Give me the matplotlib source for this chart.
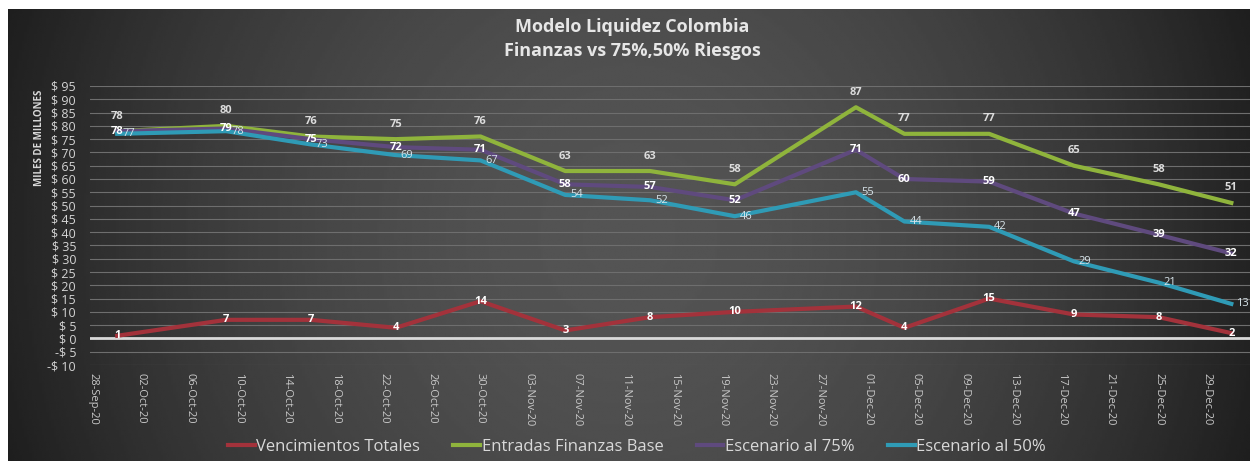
import matplotlib.pyplot as plt
import matplotlib.dates as mdates
import numpy as np
import datetime as dt

plt.rcParams['font.family'] = ['Open Sans', 'DejaVu Sans']

# datos
fechas = ["2020-09-30", "2020-10-09", "2020-10-16", "2020-10-23", "2020-10-30",
          "2020-11-06", "2020-11-13", "2020-11-20", "2020-11-30", "2020-12-04",
          "2020-12-11", "2020-12-18", "2020-12-25", "2020-12-31"]
vencimientos = [1, 7, 7, 4, 14, 3, 8, 10, 12, 4, 15, 9, 8, 2]
entradas_base = [78, 80, 76, 75, 76, 63, 63, 58, 87, 77, 77, 65, 58, 51]
escenario_75 = [78, 79, 75, 72, 71, 58, 57, 52, 71, 60, 59, 47, 39, 32]
escenario_50 = [77, 78, 73, 69, 67, 54, 52, 46, 55, 44, 42, 29, 21, 13]

series = ["Vencimientos Totales", "Entradas Finanzas Base", "Escenario al 75%", "Escenario al 50%"]
colores = ["#a3323b", "#8fb43c", "#5f4a7e", "#2f9bb6"]

x = [dt.datetime.strptime(f, "%Y-%m-%d") for f in fechas]

W, H = 1250, 461
fig = plt.figure(figsize=(W / 100, H / 100), dpi=100)
fig.patch.set_facecolor("white")

# fondo degradado oscuro
bg = fig.add_axes([8 / W, 0, 1 - 8 / W, (H - 9) / H])
gx = np.linspace(-1, 1, 500)
gy = np.linspace(-1, 1, 200)
X, Y = np.meshgrid(gx, gy)
r = np.sqrt((X * 1.0) ** 2 + (Y * 0.35) ** 2)
val = 0.33 - 0.19 * r ** 1.8
bg.imshow(val, cmap="gray", vmin=0, vmax=1, aspect="auto", interpolation="bilinear")
bg.axis("off")

ax = fig.add_axes([90 / W, 96 / H, 1 - 90 / W, 279 / H])
ax.set_facecolor("none")

inicio = mdates.date2num(dt.datetime(2020, 9, 28))
ax.set_xlim(inicio - 3 / 12.11, inicio + (W - 93) / 12.11)
ax.set_ylim(-10, 95)

ax.set_yticks(np.arange(-10, 96, 5))
ax.yaxis.set_major_formatter(plt.FuncFormatter(lambda v, p: ("-$ %d" % -v) if v < 0 else ("$ %d" % v)))
ax.set_xticks([inicio + 4 * i for i in range(24)])
ax.xaxis.set_major_formatter(mdates.DateFormatter("%d-%b-%y"))
ax.tick_params(axis="x", rotation=270, labelsize=8, colors="#c8c8c8", length=0, pad=6)
ax.tick_params(axis="y", labelsize=9, colors="#d4d4d4", length=0, pad=10)
for s in ax.spines.values():
    s.set_visible(False)
ax.yaxis.grid(True, color="#6e6e6e", lw=0.8)
ax.set_axisbelow(True)
ax.axhline(0, color="#d9d9d9", lw=2, zorder=1)

datos = [vencimientos, entradas_base, escenario_75, escenario_50]
for nombre, col, vals in zip(series, colores, datos):
    ax.plot(x, vals, color=col, lw=3, label=nombre, solid_joinstyle="round", zorder=2)

for xi, v in zip(x, vencimientos):
    ax.annotate(str(v), (xi, v), ha="center", va="center", fontsize=8, color="white",
                fontweight="bold", zorder=5)
for xi, v in zip(x, entradas_base):
    ax.annotate(str(v), (xi, v), xytext=(0, 15), textcoords="offset pixels", ha="center",
                va="center", fontsize=8, color="#dcdcdc", fontweight="bold", zorder=5)
for xi, v in zip(x, escenario_75):
    ax.annotate(str(v), (xi, v), ha="center", va="center", fontsize=8, color="white",
                fontweight="bold", zorder=5)
for xi, v in zip(x, escenario_50):
    ax.annotate(str(v), (xi, v), xytext=(5, 0), textcoords="offset pixels", ha="left",
                va="center", fontsize=8, color="#d8e4ea", zorder=5, annotation_clip=False)

fig.text(632 / W, 1 - 27 / H, "Modelo Liquidez Colombia", ha="center", va="center",
         fontsize=13, fontweight="bold", color="#e6e6e6")
fig.text(632 / W, 1 - 51 / H, "Finanzas vs 75%,50% Riesgos", ha="center", va="center",
         fontsize=13, fontweight="bold", color="#e6e6e6")
fig.text(40 / W, 1 - 138 / H, "MILES DE MILLONES", rotation=90, ha="center", va="center",
         fontsize=7, fontweight="bold", color="#d8d8d8")

fig.legend(loc="center", bbox_to_anchor=(637 / W, 14 / H), ncol=4, frameon=False,
           fontsize=12, labelcolor="#d9d9d9", handlelength=1.6, handletextpad=0.1,
           columnspacing=2.0)

fig.savefig("out.png", dpi=100)
